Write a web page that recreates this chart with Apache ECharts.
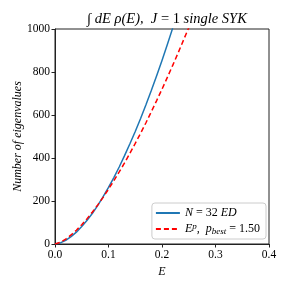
<!DOCTYPE html>
<html><head><meta charset="utf-8">
<script src="https://cdn.jsdelivr.net/npm/echarts@6/dist/echarts.min.js"></script>
<style>html,body{margin:0;padding:0;background:#fff}#c{width:288px;height:288px}</style>
</head><body><div id="c"></div>
<script>
const energies = [0,0.01,0.02,0.03,0.04,0.05,0.06,0.07,0.08,0.09,0.10,0.11,0.12,0.13,0.14,0.15,0.16,0.17,0.18,0.19,0.20,0.21,0.22,0.23,0.24,0.25];
const edCounts = [0,5,17,34,55,81,110,143,180,220,263,309,358,411,466,523,584,648,714,783,854,928,1004];
const fitCounts = [0,8,23,42,64,90,118,149,182,217,255,294,335,377,422,468,515,564,615,667,720,775,831,888,947,1006];
const xTicks = [0,0.1,0.2,0.3,0.4];
const yTicks = [0,200,400,600,800,1000];

const font = 'Liberation Serif';
const chart = echarts.init(document.getElementById('c'), null, {renderer:'canvas'});
const pair = (xs, ys) => ys.map((y,i)=>[xs[i], y]);
chart.setOption({
  animation:false,
  title:{
    text:'{i|∫ dE ρ(E),  J} = 1 {i|single SYK}',
    left:162, top:7, textAlign:'center',
    textStyle:{fontFamily:font,fontSize:14.5,fontWeight:'normal',color:'#000',
      rich:{i:{fontFamily:font,fontSize:14.5,fontStyle:'italic',color:'#000'}}}
  },
  grid:{left:55,right:19,top:29,bottom:44,show:true,borderColor:'#222',borderWidth:1,backgroundColor:'transparent',containLabel:false,outerBoundsMode:'none'},
  legend:{
    right:22, bottom:49, orient:'vertical', itemWidth:24, itemHeight:2, itemGap:2,
    padding:[3,6,3,3],
    backgroundColor:'#fff', borderColor:'#ccc', borderWidth:1, borderRadius:3,
    data:['ed','fit'],
    formatter:function(n){
      if(n==='ed') return '{m|N} = 32 {m|ED}';
      return '{m|E}{sup|p}{m|,  p}{sub|best} = 1.50';
    },
    textStyle:{fontFamily:font,fontSize:12,color:'#000',lineHeight:14,
      rich:{m:{fontFamily:font,fontSize:12,fontStyle:'italic',lineHeight:14},
            sup:{fontFamily:font,fontSize:9,fontStyle:'italic',verticalAlign:'top',lineHeight:14},
            sub:{fontFamily:font,fontSize:9,fontStyle:'italic',verticalAlign:'bottom',lineHeight:14}}}
  },
  xAxis:{
    type:'value', min:0, max:0.4, interval:0.1,
    name:'E', nameLocation:'middle', nameGap:22, nameMoveOverlap:false,
    nameTextStyle:{fontFamily:font,fontSize:12,fontStyle:'italic',color:'#000'},
    axisLine:{show:true,lineStyle:{color:'#222',width:1}},
    axisTick:{show:true,inside:false,length:3.5,lineStyle:{color:'#222'}},
    axisLabel:{fontFamily:font,fontSize:11.5,color:'#000',margin:5,formatter:v=>v.toFixed(1)},
    splitLine:{show:false}
  },
  yAxis:{
    type:'value', min:0, max:1000, interval:200,
    name:'Number of eigenvalues', nameLocation:'middle', nameGap:37, nameRotate:90, nameMoveOverlap:false,
    nameTextStyle:{fontFamily:font,fontSize:12,fontStyle:'italic',color:'#000',verticalAlign:'middle'},
    axisLine:{show:true,lineStyle:{color:'#222',width:1}},
    axisTick:{show:true,inside:false,length:3.5,lineStyle:{color:'#222'}},
    axisLabel:{fontFamily:font,fontSize:11.5,color:'#000',margin:5,formatter:v=>String(v)},
    splitLine:{show:false}
  },
  series:[
    {name:'ed',type:'line',data:pair(energies,edCounts),showSymbol:false,symbol:'none',
     lineStyle:{color:'#1f77b4',width:1.5},itemStyle:{color:'#1f77b4'},smooth:false,clip:true},
    {name:'fit',type:'line',data:pair(energies,fitCounts),showSymbol:false,symbol:'none',
     lineStyle:{color:'#ff0000',width:1.5,type:[5,3]},itemStyle:{color:'#ff0000'},smooth:false,clip:true}
  ]
});
</script></body></html>
